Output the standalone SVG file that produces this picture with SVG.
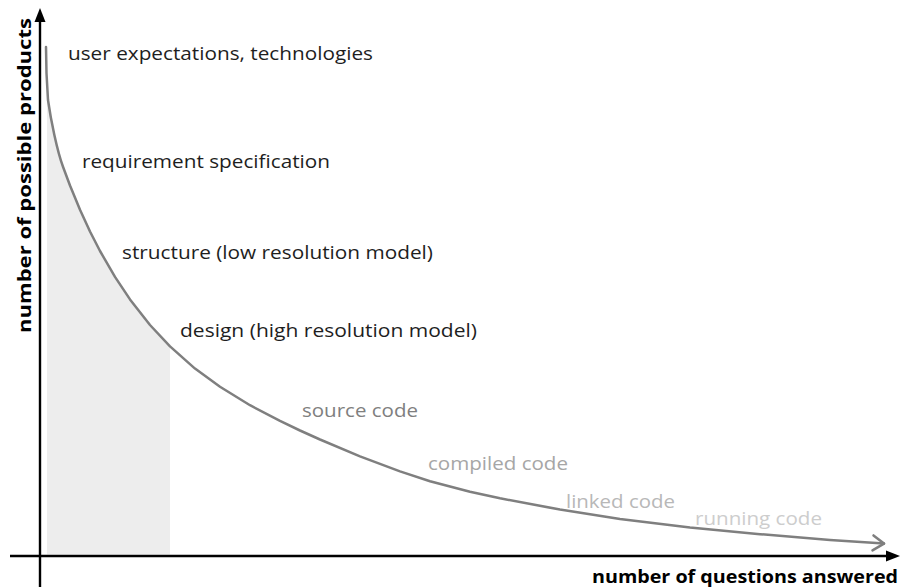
<svg xmlns="http://www.w3.org/2000/svg" width="900" height="587" viewBox="0 0 900 587">
  <style>
    .axis { stroke: #000; stroke-width: 2.4; fill: none; }
    .head { fill: #000; stroke: none; }
    .curve { stroke: #7f7f7f; stroke-width: 2.5; fill: none; stroke-linecap: round; stroke-linejoin: round; }
    .title { font-family: "Open Sans", "Liberation Sans", sans-serif; font-weight: bold; font-size: 17.5px; fill: #000; }
    .stage { font-family: "Open Sans", "Liberation Sans", sans-serif; font-size: 17.5px; }
    .dark { fill: #1e1e1e; }
    .g1 { fill: #7f7f7f; }
    .g2 { fill: #a6a6a6; }
    .g3 { fill: #b8b8b8; }
    .g4 { fill: #cdcdcd; }
  </style>

  <!-- shaded area under the early part of the curve -->
  <path id="shade" fill="#ededed" d="M47,47 C46,60 46.5,80 48,100 C50.8,120 57,150.3 63,166.8 L70,185.5 L80,209.8 L90,231.5 L100,251 L115,276.9 L130,299.4 L150,325 L170,346.4 L170,554.5 L47,554.5 Z"/>

  <!-- axes -->
  <g id="axes">
    <line class="axis" x1="40" y1="587" x2="40" y2="20"/>
    <polygon class="head" points="40,8 34.5,22 45.5,22"/>
    <line class="axis" x1="10" y1="556" x2="888" y2="556"/>
    <polygon class="head" points="900,556 886,550.5 886,561.5"/>
  </g>

  <!-- decreasing curve -->
  <g id="connectors">
    <path class="curve" d="M46,47 C46,60 46.5,80 48,100 C50.8,120 57,150.3 63,166.8 L70,185.5 L80,209.8 L90,231.5 L100,251 L115,276.9 L130,299.4 L150,325 L170,346.4 L195,368.6 L220,386.8 L250,405.2 L280,420.9 L300,430.5 L320,439.5 L360,456.4 L400,471.4 L430,481.2 L470,491.8 L500,498.3 L560,509.6 L620,518.9 L690,527.6 L760,534.2 L830,540 L884,543.6"/>
    <polyline class="curve" points="873.5,535.4 884,543.6 872.5,550.4"/>
  </g>

  <!-- axis titles -->
  <g id="axis-titles">
    <text class="title" transform="translate(31,333) rotate(-90)" textLength="315" lengthAdjust="spacingAndGlyphs">number of possible products</text>
    <text class="title" x="592" y="583" textLength="306" lengthAdjust="spacingAndGlyphs">number of questions answered</text>
  </g>

  <!-- stage labels along the curve -->
  <g id="stage-user"><text class="stage dark" x="68" y="60" textLength="305" lengthAdjust="spacingAndGlyphs">user expectations, technologies</text></g>
  <g id="stage-requirements"><text class="stage dark" x="82" y="168" textLength="248" lengthAdjust="spacingAndGlyphs">requirement specification</text></g>
  <g id="stage-structure"><text class="stage dark" x="122" y="259" textLength="311" lengthAdjust="spacingAndGlyphs">structure (low resolution model)</text></g>
  <g id="stage-design"><text class="stage dark" x="180" y="337" textLength="297" lengthAdjust="spacingAndGlyphs">design (high resolution model)</text></g>
  <g id="stage-source"><text class="stage g1" x="302" y="417" textLength="116" lengthAdjust="spacingAndGlyphs">source code</text></g>
  <g id="stage-compiled"><text class="stage g2" x="428" y="470" textLength="140" lengthAdjust="spacingAndGlyphs">compiled code</text></g>
  <g id="stage-linked"><text class="stage g3" x="566" y="508" textLength="109" lengthAdjust="spacingAndGlyphs">linked code</text></g>
  <g id="stage-running"><text class="stage g4" x="695" y="525" textLength="127" lengthAdjust="spacingAndGlyphs">running code</text></g>
</svg>
